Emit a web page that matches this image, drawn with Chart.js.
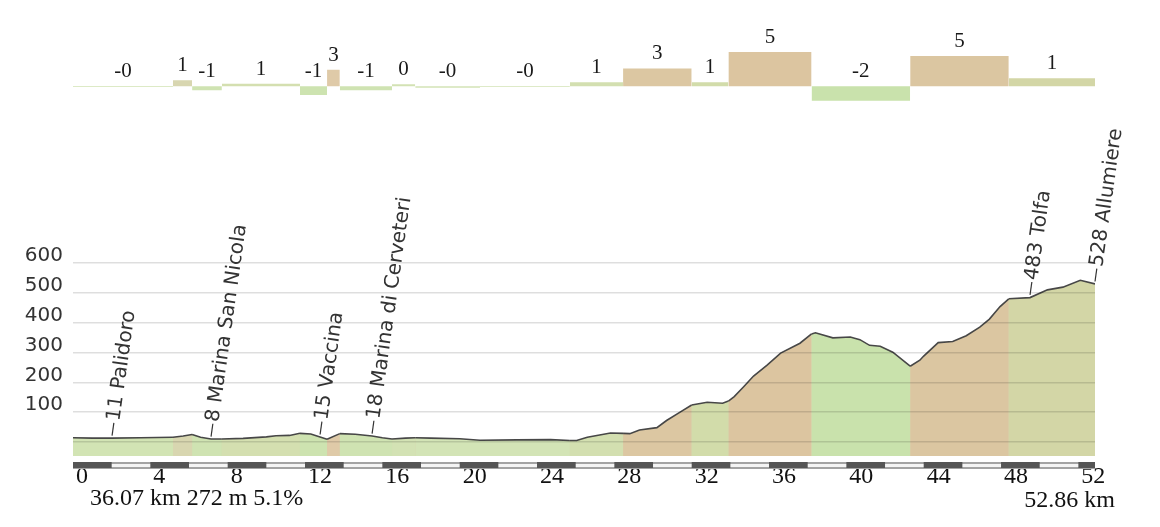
<!DOCTYPE html>
<html>
<head>
<meta charset="utf-8">
<script src="https://cdn.jsdelivr.net/npm/chart.js@4/dist/chart.umd.min.js"></script>
<style>
html, body { margin: 0; padding: 0; background: #fff; }
#wrap { position: relative; width: 1160px; height: 527px; }
#wrap canvas { position: absolute; left: 0; top: 0; }
</style>
</head>
<body>
<div id="wrap">
  <canvas id="profile" width="1160" height="527"></canvas>
  <canvas id="grades" width="1160" height="130"></canvas>
</div>
<script>
// elevation profile (km, m)
const distKm = [0, 1.0, 2.02, 3.5, 5.17, 5.7, 6.16, 6.6, 7.14, 7.7, 8.8, 10.0, 10.5, 11.2, 11.74,
  12.3, 12.78, 13.14, 13.8, 14.6, 15.47, 16.0, 16.5, 17.2, 17.7, 18.5, 20.0, 21.05, 22.95, 24.7,
  25.7, 26.05, 26.6, 27.8, 28.45, 28.8, 29.3, 30.2, 30.7, 31.4, 32.0, 32.8, 33.6, 33.9, 34.2,
  34.7, 35.2, 35.9, 36.6, 37.6, 38.2, 38.4, 39.3, 40.2, 40.7, 41.2, 41.75, 42.4, 43.3, 43.8,
  44.0, 44.75, 45.5, 46.2, 46.9, 47.4, 47.95, 48.4, 49.5, 50.4, 51.2, 52.1, 52.86];
const elevM = [14, 13, 13, 14, 16, 20, 25, 16, 10, 10, 12, 17, 21, 22, 29,
  27, 17, 9, 28, 26, 20, 14, 10, 13, 14, 13, 11, 6, 7, 8,
  5, 5, 16, 30, 29, 28, 40, 48, 72, 100, 124, 133, 130, 137, 152,
  186, 221, 258, 298, 331, 362, 366, 349, 352, 343, 324, 321, 301, 254, 274,
  288, 333, 337, 356, 385, 412, 454, 480, 484, 510, 519, 542, 530];

// gradient segments
const segStart = [0, 5.17, 6.16, 7.7, 11.74, 13.14, 13.8, 16.5, 17.7, 21.05, 25.7, 28.45, 32.0, 33.9, 38.2, 43.3, 48.4];
const segGrade = [-0.1, 0.9, -0.6, 0.4, -1.3, 2.5, -0.6, 0.3, -0.2, -0.1, 0.6, 2.7, 0.6, 5.2, -2.2, 4.6, 1.2];
const segLabel = ['-0', '1', '-1', '1', '-1', '3', '-1', '0', '-0', '-0', '1', '3', '1', '5', '-2', '5', '1'];
const segColor = ['#d2e4b4', '#d8d6b0', '#cfe3b2', '#d4dfb0', '#cde3b0', '#dfcaa8', '#cfe3b2', '#d3e2b4',
  '#d3e4b6', '#d3e4b6', '#d3dfb0', '#dcc7a2', '#d2dcaa', '#dcc5a0', '#c9e2ac', '#dbc6a1', '#d3d6a6'];
const totalKm = 52.86;

// places
const placeKm = [2.02, 7.14, 12.78, 15.47, 49.5, 52.86];
const placeElev = [11, 8, 15, 18, 483, 528];
const placeName = ['Palidoro', 'Marina San Nicola', 'Vaccina', 'Marina di Cerveteri', 'Tolfa', 'Allumiere'];

const xTicks = [0, 4, 8, 12, 16, 20, 24, 28, 32, 36, 40, 44, 48, 52];
const yTicks = [0, 100, 200, 300, 400, 500, 600];
const footerLeft = '36.07 km 272 m 5.1%';
const footerRight = '52.86 km';

function colorAt(km) {
  let i = 0;
  while (i < segStart.length - 1 && km >= segStart[i + 1]) i++;
  return segColor[i];
}

const profilePts = distKm.map((d, i) => ({ x: d, y: elevM[i] }));

const profileExtras = {
  id: 'profileExtras',
  afterDraw(chart) {
    const ctx = chart.ctx;
    const xs = chart.scales.x, ys = chart.scales.y;
    const area = chart.chartArea;
    // km strip
    const y0 = area.bottom + 6;
    const left = xs.getPixelForValue(0), right = xs.getPixelForValue(totalKm);
    ctx.save();
    ctx.fillStyle = '#a3a3a3';
    ctx.fillRect(left, y0, right - left, 7);
    ctx.fillStyle = '#f4f4f4';
    ctx.fillRect(left, y0 + 2, right - left, 3);
    ctx.fillStyle = '#555';
    xTicks.forEach(t => {
      const a = xs.getPixelForValue(t), b = xs.getPixelForValue(Math.min(t + 2, totalKm));
      ctx.fillRect(a, y0, b - a, 6);
    });
    // place labels
    const ang = -82 * Math.PI / 180;
    ctx.fillStyle = '#333';
    ctx.strokeStyle = '#333';
    ctx.lineWidth = 1.2;
    ctx.font = '20px "DejaVu Sans"';
    ctx.textAlign = 'left';
    ctx.textBaseline = 'middle';
    placeKm.forEach((k, i) => {
      const px = xs.getPixelForValue(k), py = ys.getPixelForValue(placeElev[i]) - 3;
      ctx.save();
      ctx.translate(px, py);
      ctx.rotate(ang);
      ctx.beginPath();
      ctx.moveTo(0, 0);
      ctx.lineTo(13, 0);
      ctx.stroke();
      ctx.fillText(placeElev[i] + ' ' + placeName[i], 15, 0);
      ctx.restore();
    });
    // footer
    ctx.fillStyle = '#111';
    ctx.font = '24px "Liberation Serif"';
    ctx.textBaseline = 'alphabetic';
    ctx.textAlign = 'left';
    ctx.fillText(footerLeft, 90, 505);
    ctx.textAlign = 'right';
    ctx.fillText(footerRight, 1115, 507);
    ctx.restore();
  }
};

new Chart(document.getElementById('profile'), {
  type: 'line',
  data: {
    datasets: [{
      data: profilePts,
      borderColor: '#474747',
      borderWidth: 1.6,
      backgroundColor: segColor[0],
      fill: 'start',
      pointRadius: 0,
      tension: 0,
      segment: {
        backgroundColor: c => colorAt((c.p0.parsed.x + c.p1.parsed.x) / 2)
      }
    }, {
      // plain underlay so segment edges do not show white seams
      data: profilePts,
      borderWidth: 0,
      backgroundColor: '#d5d8ae',
      fill: 'start',
      pointRadius: 0,
      tension: 0
    }]
  },
  options: {
    responsive: false,
    animation: false,
    events: [],
    layout: { padding: { left: 0, right: 65, top: 263, bottom: 31 } },
    plugins: { legend: { display: false }, tooltip: { enabled: false } },
    scales: {
      x: {
        type: 'linear',
        min: 0,
        max: totalKm,
        afterBuildTicks: s => { s.ticks = xTicks.map(v => ({ value: v })); },
        afterFit: s => { s.height = 40; s.paddingLeft = 0; s.paddingRight = 0; },
        grid: { display: false, drawTicks: false },
        border: { display: false },
        ticks: {
          autoSkip: false,
          maxRotation: 0,
          align: 'start',
          labelOffset: 3,
          padding: 6,
          color: '#111',
          font: { family: '"Liberation Serif"', size: 24 }
        }
      },
      y: {
        min: -47,
        max: 600,
        afterBuildTicks: s => { s.ticks = yTicks.map(v => ({ value: v })); },
        afterFit: s => { s.width = 73; },
        grid: { color: 'rgba(0,0,0,0.13)', lineWidth: 1.5, drawTicks: false, z: 1 },
        border: { display: false },
        ticks: {
          padding: 10,
          labelOffset: -7,
          color: '#333',
          font: { family: '"DejaVu Sans"', size: 20 },
          callback: v => (v === 0 ? '' : v)
        }
      }
    }
  },
  plugins: [profileExtras]
});

// gradient bars
const gradeLabels = {
  id: 'gradeLabels',
  afterDatasetsDraw(chart) {
    const ctx = chart.ctx;
    const xs = chart.scales.x, ys = chart.scales.y;
    ctx.save();
    ctx.fillStyle = '#1a1a1a';
    ctx.font = '21px "Liberation Serif"';
    ctx.textAlign = 'center';
    ctx.textBaseline = 'alphabetic';
    segStart.forEach((s, i) => {
      const e = i < segStart.length - 1 ? segStart[i + 1] : totalKm;
      const px = xs.getPixelForValue((s + e) / 2);
      const top = Math.min(ys.getPixelForValue(segGrade[i]), ys.getPixelForValue(0));
      ctx.fillText(segLabel[i], px, top - 9);
    });
    ctx.restore();
  }
};

const gradePts = segStart.map((s, i) => ({ x: s, y: segGrade[i] }));
gradePts.push({ x: totalKm, y: segGrade[segGrade.length - 1] });

new Chart(document.getElementById('grades'), {
  type: 'line',
  data: {
    datasets: [{
      data: gradePts,
      stepped: 'before',
      borderWidth: 0,
      borderColor: 'rgba(0,0,0,0)',
      backgroundColor: segColor[0],
      fill: 'origin',
      pointRadius: 0,
      segment: {
        backgroundColor: c => segColor[c.p0DataIndex]
      }
    }]
  },
  options: {
    responsive: false,
    animation: false,
    events: [],
    layout: { padding: { left: 73, right: 65, top: 40, bottom: 4 } },
    plugins: { legend: { display: false }, tooltip: { enabled: false } },
    scales: {
      x: { type: 'linear', min: 0, max: totalKm, display: false },
      y: { min: -6, max: 7, display: false }
    }
  },
  plugins: [gradeLabels]
});
</script>
</body>
</html>
